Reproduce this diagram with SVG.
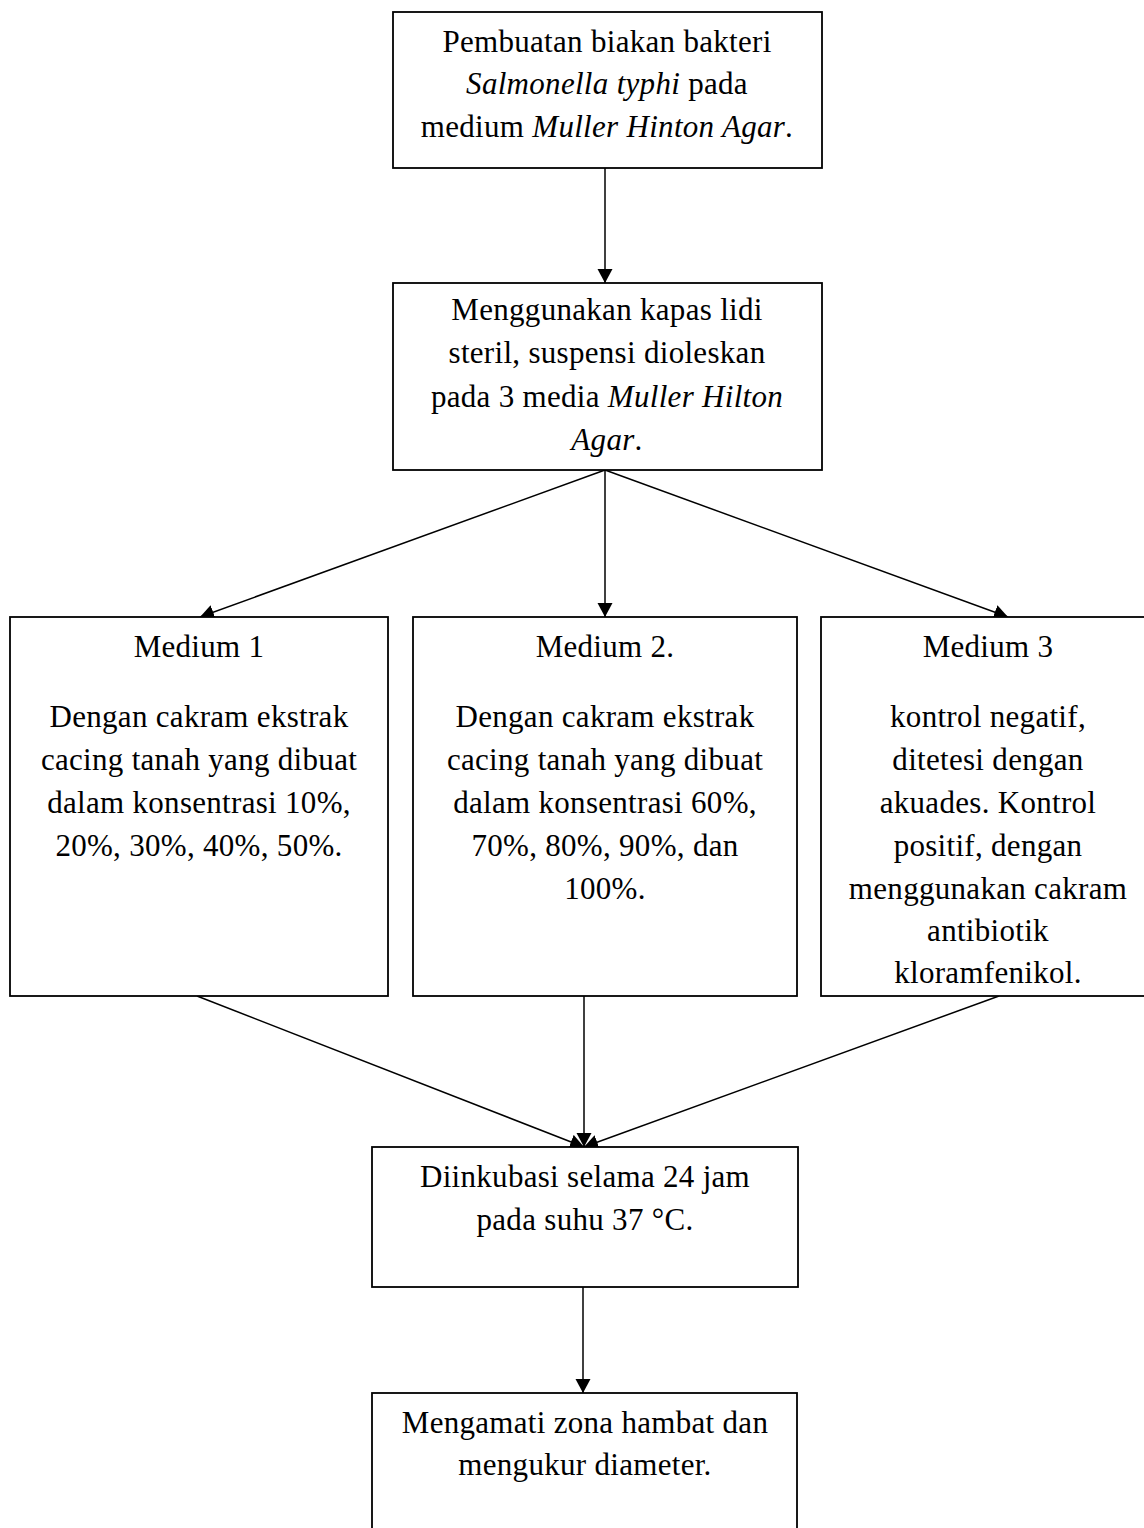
<svg xmlns="http://www.w3.org/2000/svg" width="1144" height="1528" viewBox="0 0 1144 1528">
<style>
.box{fill:#fff;stroke:#000;stroke-width:1.8}
.t{font-family:"Liberation Serif","Times New Roman",serif;font-size:31px;letter-spacing:0.3px;fill:#000;text-anchor:middle}
.i{font-style:italic}
.c{stroke:#000;stroke-width:1.5;fill:none;marker-end:url(#ah)}
</style>
<defs>
<marker id="ah" markerUnits="userSpaceOnUse" markerWidth="16" markerHeight="16" refX="14" refY="7.5" orient="auto">
<path d="M0,0 L14,7.5 L0,15 z" fill="#000"/>
</marker>
</defs>
<rect width="1144" height="1528" fill="#fff"/>
<g id="connectors">
<line class="c" x1="605" y1="168" x2="605" y2="283"/>
<line class="c" x1="605" y1="470" x2="200" y2="617"/>
<line class="c" x1="605" y1="470" x2="605" y2="617"/>
<line class="c" x1="605" y1="470" x2="1008" y2="617"/>
<line class="c" x1="197" y1="996" x2="584" y2="1147"/>
<line class="c" x1="584" y1="996" x2="584" y2="1147"/>
<line class="c" x1="999" y1="996" x2="584" y2="1147"/>
<line class="c" x1="583" y1="1287" x2="583" y2="1393"/>
</g>
<g id="n1">
<rect class="box" x="393" y="12" width="429" height="156"/>
<text class="t" x="607" y="52">Pembuatan biakan bakteri</text>
<text class="t" x="607" y="94"><tspan class="i">Salmonella typhi</tspan> pada</text>
<text class="t" x="607" y="137">medium <tspan class="i">Muller Hinton Agar</tspan>.</text>
</g>
<g id="n2">
<rect class="box" x="393" y="283" width="429" height="187"/>
<text class="t" x="607" y="320">Menggunakan kapas lidi</text>
<text class="t" x="607" y="363">steril, suspensi dioleskan</text>
<text class="t" x="607" y="407">pada 3 media <tspan class="i">Muller Hilton</tspan></text>
<text class="t" x="607" y="450"><tspan class="i">Agar</tspan>.</text>
</g>
<g id="m1">
<rect class="box" x="10" y="617" width="378" height="379"/>
<text class="t" x="199" y="657">Medium 1</text>
<text class="t" x="199" y="727">Dengan cakram ekstrak</text>
<text class="t" x="199" y="770">cacing tanah yang dibuat</text>
<text class="t" x="199" y="813">dalam konsentrasi 10%,</text>
<text class="t" x="199" y="856">20%, 30%, 40%, 50%.</text>
</g>
<g id="m2">
<rect class="box" x="413" y="617" width="384" height="379"/>
<text class="t" x="605" y="657">Medium 2.</text>
<text class="t" x="605" y="727">Dengan cakram ekstrak</text>
<text class="t" x="605" y="770">cacing tanah yang dibuat</text>
<text class="t" x="605" y="813">dalam konsentrasi 60%,</text>
<text class="t" x="605" y="856">70%, 80%, 90%, dan</text>
<text class="t" x="605" y="899">100%.</text>
</g>
<g id="m3">
<rect class="box" x="821" y="617" width="340" height="379"/>
<text class="t" x="988" y="657">Medium 3</text>
<text class="t" x="988" y="727">kontrol negatif,</text>
<text class="t" x="988" y="770">ditetesi dengan</text>
<text class="t" x="988" y="813">akuades. Kontrol</text>
<text class="t" x="988" y="856">positif, dengan</text>
<text class="t" x="988" y="899">menggunakan cakram</text>
<text class="t" x="988" y="941">antibiotik</text>
<text class="t" x="988" y="983">kloramfenikol.</text>
</g>
<g id="d">
<rect class="box" x="372" y="1147" width="426" height="140"/>
<text class="t" x="585" y="1187">Diinkubasi selama 24 jam</text>
<text class="t" x="585" y="1230">pada suhu 37 °C.</text>
</g>
<g id="e">
<rect class="box" x="372" y="1393" width="425" height="150"/>
<text class="t" x="585" y="1433">Mengamati zona hambat dan</text>
<text class="t" x="585" y="1475">mengukur diameter.</text>
</g>
</svg>
